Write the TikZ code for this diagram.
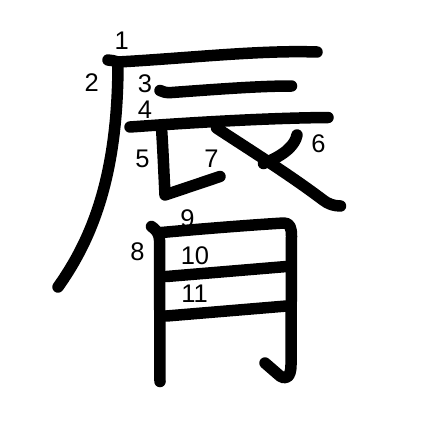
\documentclass[tikz,border=0pt]{standalone}
\usepackage{fontspec}
\setmainfont{Liberation Sans}
\begin{document}
\begin{tikzpicture}[x=1pt,y=-1pt,
  stroke/.style={line width=11.5pt,line cap=round,line join=round},
  num/.style={inner sep=0pt,font=\fontsize{25.5}{25.5}\selectfont}]
\useasboundingbox[fill=white] (0,0) rectangle (447,447);
% strokes
\draw[stroke] (108,60) .. controls (111,60) and (114,61) .. (118,62) .. controls (190,58) and (260,50) .. (317,52);
\draw[stroke] (118,62) .. controls (118,170) and (95,235) .. (58,287);
\draw[stroke] (160,90.5) .. controls (163,92) and (166,93) .. (172,92.5) .. controls (220,89) and (260,86) .. (291.5,86);
\draw[stroke] (130,127) .. controls (200,122) and (270,118) .. (328,117.5);
\draw[stroke] (161.5,128) .. controls (163,150) and (164,175) .. (165,195) -- (220,176.5);
\draw[stroke] (297,135) .. controls (295,145) and (285,155) .. (263.5,163.5);
\draw[stroke] (216.5,128) .. controls (250,150) and (290,175) .. (323,200) .. controls (328,204) and (334,206) .. (340.5,206);
\draw[stroke] (151.5,226.5) .. controls (155,229) and (159,232) .. (159.5,240) -- (160,381.5);
\draw[stroke] (161.5,232.5) .. controls (200,229) and (250,225) .. (284,223) .. controls (290,223) and (291.5,228) .. (291.5,236) -- (291,365) .. controls (291,378) and (285,380) .. (280,376) -- (265,363);
\draw[stroke] (166.5,276.5) -- (286.5,266.5);
\draw[stroke] (166.5,316) -- (286.5,306);
% labels
\node[num] (n1) at (121.7,40.5) {1};
\node[num] (n2) at (91.7,82.5) {2};
\node[num] (n3) at (145,83.5) {3};
\node[num] (n4) at (145,110) {4};
\node[num] (n5) at (142.5,158.5) {5};
\node[num] (n6) at (318.5,144) {6};
\node[num] (n7) at (211.5,158.5) {7};
\node[num] (n8) at (137.5,251.5) {8};
\node[num] (n9) at (187.5,219) {9};
\node[num] (n10) at (195,256) {10};
\node[num] (n11) at (194.5,294) {11};
\end{tikzpicture}
\end{document}
